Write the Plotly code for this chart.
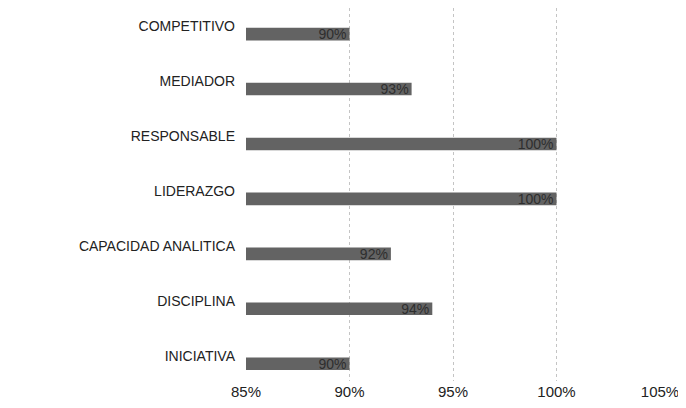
import plotly.graph_objects as go

categories = ["COMPETITIVO", "MEDIADOR", "RESPONSABLE", "LIDERAZGO",
              "CAPACIDAD ANALITICA", "DISCIPLINA", "INICIATIVA"]
values = [0.90, 0.93, 1.00, 1.00, 0.92, 0.94, 0.90]
labels = ["90%", "93%", "100%", "100%", "92%", "94%", "90%"]
tick_vals = [0.85, 0.90, 0.95, 1.00, 1.05]
tick_text = ["85%", "90%", "95%", "100%", "105%"]
axis_min = 0.85

fig = go.Figure(go.Bar(
    y=categories, x=[v - axis_min for v in values], orientation="h",
    base=axis_min, text=labels,
    textposition="inside", insidetextanchor="end", constraintext="none",
    textangle=0,
    textfont=dict(color="#2e2e2e", size=14, family="Liberation Sans"),
    marker=dict(color="#636363", line=dict(width=0)),
    width=0.23, offset=0.03,
    cliponaxis=False,
))

fig.update_layout(
    width=686, height=408,
    margin=dict(l=238, r=34, t=0, b=35),
    paper_bgcolor="white", plot_bgcolor="white",
    showlegend=False,
    font=dict(family="Liberation Sans", color="#222222"),
    uniformtext=dict(minsize=14, mode="show"),
    xaxis=dict(range=[0.85, 1.05], tickvals=tick_vals, ticktext=tick_text,
               showgrid=True, gridcolor="#c4c4c4", griddash="dot", gridwidth=1,
               zeroline=False, showline=False, ticks="",
               tickfont=dict(size=15, color="#222222")),
    yaxis=dict(range=[6.46, -0.33], showgrid=False, zeroline=False,
               showline=False, ticks="", ticklabelstandoff=10,
               tickfont=dict(size=14, color="#222222")),
)

fig.write_html("out.html")
